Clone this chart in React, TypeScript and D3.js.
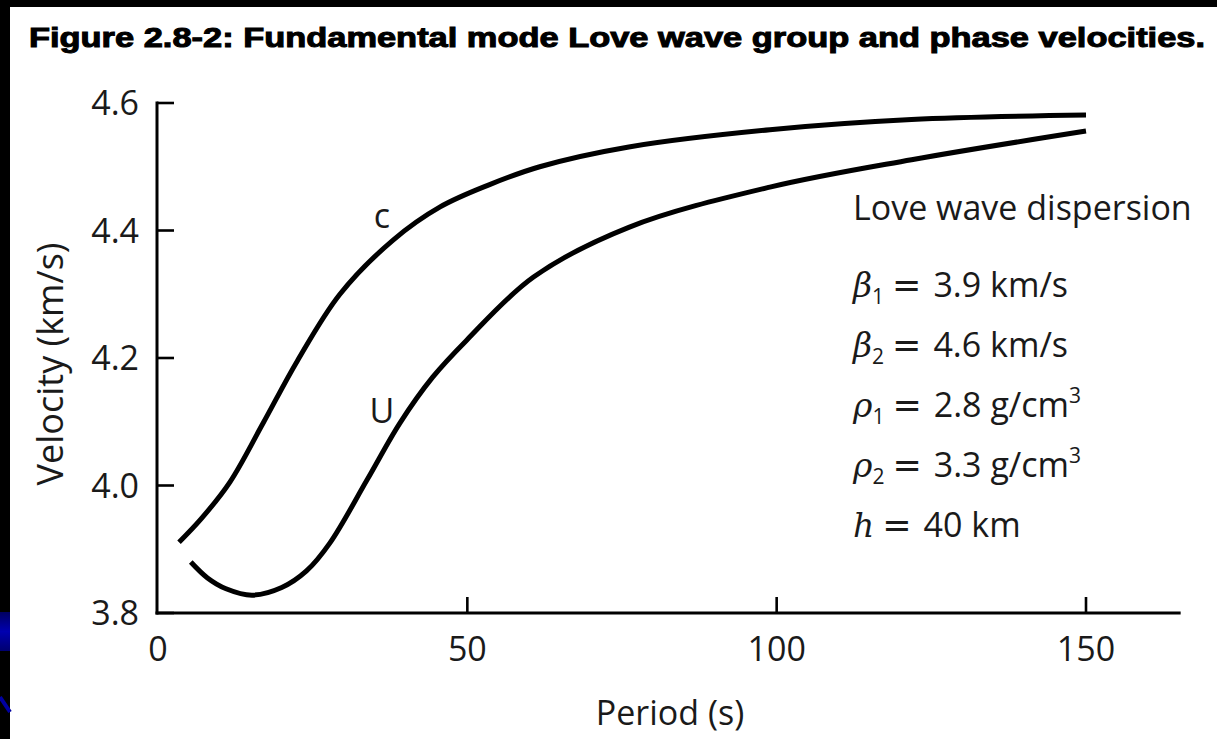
import React from "react";
import * as d3 from "d3";

const TITLE = "Figure 2.8-2: Fundamental mode Love wave group and phase velocities.";
const xTicks = [0, 50, 100, 150];
const yTicks = [3.8, 4.0, 4.2, 4.4, 4.6];

// phase velocity c
const cPeriods = [3.4, 7, 11.6, 17, 22.5, 29.4, 38, 45.6, 53.6, 61.7, 76.1, 98.9, 121.8, 150];
const cValues = [3.911, 3.948, 4.005, 4.098, 4.195, 4.3, 4.385, 4.437, 4.472, 4.5, 4.531, 4.558, 4.574, 4.581];

// group velocity U
const uPeriods = [5.3, 8, 11, 15.2, 20, 24, 27.8, 33.8, 39.1, 44.4, 49.9, 60.7, 76.1, 98.9, 121.8, 150];
const uValues = [3.88, 3.855, 3.838, 3.828, 3.84, 3.866, 3.91, 4.009, 4.098, 4.17, 4.228, 4.327, 4.405, 4.468, 4.511, 4.556];

const FONT = "'Open Sans', 'Noto Sans', sans-serif";

export default function App() {
  const W = 1217, H = 739;
  const x = d3.scaleLinear().domain([0, 150]).range([158, 1086]);
  const y = d3.scaleLinear().domain([3.8, 4.6]).range([613, 103]);
  const line = d3
    .line<[number, number]>()
    .x((d) => x(d[0]))
    .y((d) => y(d[1]))
    .curve(d3.curveCatmullRom.alpha(0.5));
  const cData = cPeriods.map((p, i) => [p, cValues[i]] as [number, number]);
  const uData = uPeriods.map((p, i) => [p, uValues[i]] as [number, number]);
  const x0 = x(0) - 1;
  const xEnd = x(165.3);

  const params = [
    { sym: "β", sub: "1", val: "3.9 km/s", sup: "" },
    { sym: "β", sub: "2", val: "4.6 km/s", sup: "" },
    { sym: "ρ", sub: "1", val: "2.8 g/cm", sup: "3" },
    { sym: "ρ", sub: "2", val: "3.3 g/cm", sup: "3" },
    { sym: "h", sub: "", val: "40 km", sup: "" },
  ];

  const FS = 34;

  return (
    <svg
      width={W}
      height={H}
      style={{ position: "fixed", left: 0, top: 0, background: "#fff" }}
    >
      <defs>
        <linearGradient id="blueg" x1="0" y1="0" x2="0" y2="1">
          <stop offset="0" stopColor="#000060" />
          <stop offset="0.5" stopColor="#0000b0" />
          <stop offset="1" stopColor="#000070" />
        </linearGradient>
      </defs>
      <rect x={0} y={0} width={W} height={H} fill="#fff" />
      {/* frame */}
      <rect x={0} y={0} width={W} height={7} fill="#000" />
      <rect x={0} y={0} width={10} height={H} fill="#000" />
      <rect x={0} y={612} width={10} height={39} fill="url(#blueg)" />
      <line x1={0} y1={697} x2={10} y2={712} stroke="#0000a0" strokeWidth={4} />

      {/* title */}
      <text
        x={29}
        y={47}
        fontFamily="'Liberation Sans', Arial, sans-serif"
        fontWeight="bold"
        fontSize={27}
        textLength={1176}
        lengthAdjust="spacingAndGlyphs"
        fill="#000"
        stroke="#000"
        strokeWidth={1}
      >
        {TITLE}
      </text>

      {/* axes */}
      <line x1={x0} y1={y(4.6) - 1.5} x2={x0} y2={y(3.8) + 1.5} stroke="#000" strokeWidth={3} />
      <line x1={x0 - 1.5} y1={y(3.8)} x2={xEnd} y2={y(3.8)} stroke="#000" strokeWidth={3} />
      {yTicks.map((t) => (
        <g key={"y" + t}>
          <line x1={x0} x2={x0 + 17} y1={y(t)} y2={y(t)} stroke="#000" strokeWidth={2.6} />
          <text
            x={139}
            y={y(t)}
            dy="0.36em"
            textAnchor="end"
            fontFamily={FONT}
            fontSize={FS}
            fill="#1a1a1a"
          >
            {t.toFixed(1)}
          </text>
        </g>
      ))}
      {xTicks.map((t) => (
        <g key={"x" + t}>
          {t !== 0 && (
            <line x1={x(t)} x2={x(t)} y1={y(3.8)} y2={y(3.8) - 16} stroke="#000" strokeWidth={2.6} />
          )}
          <text
            x={x(t)}
            y={661}
            textAnchor="middle"
            fontFamily={FONT}
            fontSize={FS}
            fill="#1a1a1a"
          >
            {t}
          </text>
        </g>
      ))}

      {/* axis titles */}
      <text
        x={670}
        y={725}
        textAnchor="middle"
        fontFamily={FONT}
        fontSize={FS}
        fill="#1a1a1a"
      >
        Period (s)
      </text>
      <text
        transform={`translate(63, 364) rotate(-90)`}
        textAnchor="middle"
        fontFamily={FONT}
        fontSize={36}
        fill="#1a1a1a"
      >
        Velocity (km/s)
      </text>

      {/* curves */}
      <path d={line(cData) || ""} fill="none" stroke="#000" strokeWidth={5} />
      <path d={line(uData) || ""} fill="none" stroke="#000" strokeWidth={5} />

      <text x={382} y={228} textAnchor="middle" fontFamily={FONT} fontSize={FS} fill="#1a1a1a">
        c
      </text>
      <text x={382} y={423} textAnchor="middle" fontFamily={FONT} fontSize={FS} fill="#1a1a1a">
        U
      </text>

      {/* annotation */}
      <text x={853} y={220} fontFamily={FONT} fontSize={FS} fill="#1a1a1a">
        Love wave dispersion
      </text>
      {params.map((p, i) => (
        <text
          key={i}
          x={853}
          y={297 + i * 60}
          fontFamily={FONT}
          fontSize={FS}
          fill="#1a1a1a"
        >
          <tspan fontStyle="italic" fontFamily="'DejaVu Serif', serif" fontSize={33}>
            {p.sym}
          </tspan>
          {p.sub && (
            <tspan fontSize={21} dy={7}>
              {p.sub}
            </tspan>
          )}
          <tspan dy={p.sub ? -7 : 0} dx={8} fontFamily="'DejaVu Sans', sans-serif" fontSize={35}>
            =
          </tspan>
          <tspan dx={12}>{p.val}</tspan>
          {p.sup && (
            <tspan fontSize={21} dy={-14}>
              {p.sup}
            </tspan>
          )}
        </text>
      ))}
    </svg>
  );
}
